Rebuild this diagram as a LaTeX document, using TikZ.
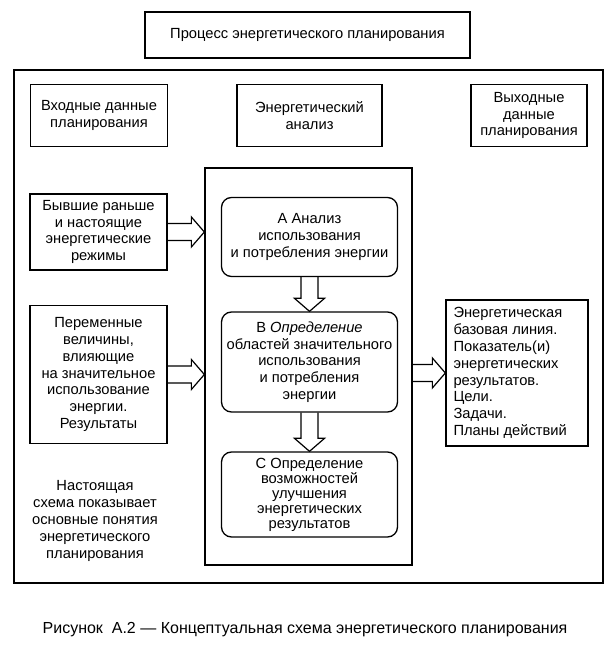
\documentclass[tikz,border=0pt]{standalone}
\usepackage{fontspec}
\setmainfont{Liberation Sans}
\usetikzlibrary{calc}
\newcommand\fs{\fontsize{14.7}{16.8}\selectfont}
\newcommand\hollowH[2]{% horizontal hollow arrow from #1 to #2
  \draw[arr] ($(#1)+(0,8.5)$) -- ($(#2)+(-13,8.5)$) -- ($(#2)+(-13,15)$) -- (#2)
    -- ($(#2)+(-13,-15)$) -- ($(#2)+(-13,-8.5)$) -- ($(#1)+(0,-8.5)$);}
\newcommand\hollowV[2]{% vertical hollow arrow from #1 down to #2
  \draw[arr] ($(#1)+(-8.5,0)$) -- ($(#2)+(-8.5,13)$) -- ($(#2)+(-15,13)$) -- (#2)
    -- ($(#2)+(15,13)$) -- ($(#2)+(8.5,13)$) -- ($(#1)+(8.5,0)$);}
\begin{document}
\begin{tikzpicture}[x=1pt,y=1pt,
  box/.style={draw, line width=1.3pt, align=center, inner sep=0pt, font=\fs},
  rbox/.style={box, rounded corners=10pt},
  frame/.style={draw, line width=1.3pt},
  arr/.style={line width=1.2pt, line join=miter}]
\useasboundingbox (0,0) rectangle (612,645);
% title
\node[box, minimum width=325, minimum height=46] (title) at (307.5,610) {Процесс энергетического планирования};
% outer frame
\draw[frame] (14,62) rectangle (603,575);
% headers
\node[box, minimum width=137, minimum height=62] (hin) at (99,529.5) {Входные данные\\планирования};
\node[box, minimum width=145, minimum height=62] (han) at (309.5,529.5) {Энергетический\\анализ};
\node[box, minimum width=116, minimum height=62] (hout) at (529,529.5) {Выходные\\данные\\планирования};
% inner frame
\node[frame, minimum width=207, minimum height=397, inner sep=0pt] (inner) at (308.5,278.5) {};
% left boxes
\node[box, minimum width=137, minimum height=76] (l1) at (98.5,413) {Бывшие раньше\\и настоящие\\энергетические\\режимы};
\node[box, minimum width=137, minimum height=138] (l2) at (98.5,270.5) {Переменные\\величины,\\влияющие\\на значительное\\использование\\энергии.\\Результаты};
% centre boxes
\node[rbox, minimum width=176, minimum height=79] (a) at (309.5,408) {А Анализ\\использования\\и потребления энергии};
\node[rbox, minimum width=176, minimum height=100] (b) at (309.5,283) {В \textit{Определение}\\областей значительного\\использования\\и потребления\\энергии};
\node[rbox, minimum width=176, minimum height=85, font=\fontsize{14.7}{15}\selectfont] (c) at (309.5,150.5) {С Определение\\возможностей\\улучшения\\энергетических\\результатов};
% right box
\node[draw, line width=1.3pt, minimum width=142, minimum height=146, inner sep=0pt] (r) at (517,272) {};
\node[font=\fs, align=left, anchor=west, inner sep=0pt] (rt) at ($(r.west)+(8,0)$) {Энергетическая\\базовая линия.\\Показатель(и)\\энергетических\\результатов.\\Цели.\\Задачи.\\Планы действий};
% note
\node[font=\fs, align=center] (note) at (95,124) {Настоящая\\схема показывает\\основные понятия\\энергетического\\планирования};
% caption
\node[font=\fontsize{16}{19}\selectfont] (cap) at (305,15) {Рисунок\ \ А.2 — Концептуальная схема энергетического планирования};
% arrows
\coordinate (t1) at (l1.east -| inner.west);
\hollowH{l1.east}{t1}
\coordinate (t2) at (l2.east -| inner.west);
\hollowH{l2.east}{t2}
\coordinate (s3) at (r.west -| inner.east);
\hollowH{s3}{r.west}
\hollowV{a.south}{b.north}
\hollowV{b.south}{c.north}
\end{tikzpicture}
\end{document}
